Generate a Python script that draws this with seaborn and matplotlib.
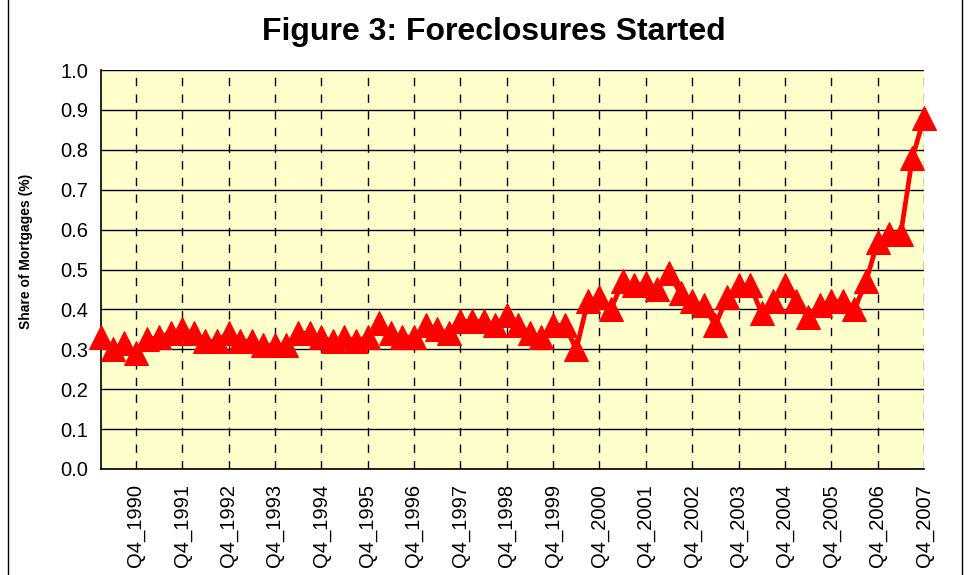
import numpy as np
import pandas as pd
import matplotlib
matplotlib.use('Agg')
import matplotlib.pyplot as plt
import seaborn as sns

# quarterly share of mortgages with foreclosures started, Q1 1990 .. Q4 2007
years = list(range(1990, 2008))
quarters = ['Q1', 'Q2', 'Q3', 'Q4']
share = [
    0.33, 0.30, 0.315, 0.29,    # 1990
    0.325, 0.33, 0.34, 0.35,    # 1991
    0.34, 0.32, 0.32, 0.34,     # 1992
    0.32, 0.32, 0.31, 0.31,     # 1993
    0.31, 0.34, 0.34, 0.33,     # 1994
    0.32, 0.33, 0.32, 0.33,     # 1995
    0.365, 0.34, 0.33, 0.33,    # 1996
    0.36, 0.35, 0.34, 0.37,     # 1997
    0.37, 0.37, 0.36, 0.385,    # 1998
    0.36, 0.34, 0.33, 0.36,     # 1999
    0.36, 0.30, 0.42, 0.43,     # 2000
    0.40, 0.47, 0.46, 0.465,    # 2001
    0.45, 0.49, 0.44, 0.42,     # 2002
    0.41, 0.36, 0.43, 0.46,     # 2003
    0.46, 0.39, 0.42, 0.46,     # 2004
    0.42, 0.38, 0.41, 0.42,     # 2005
    0.42, 0.40, 0.47, 0.57,     # 2006
    0.59, 0.59, 0.78, 0.88,     # 2007
]
labels = [f'{q}_{y}' for y in years for q in quarters]

df = pd.DataFrame({'idx': np.arange(len(share)), 'quarter': labels, 'share': share})

sns.set_style('white')
plt.rcParams['font.family'] = ['Liberation Sans', 'DejaVu Sans']
plt.rcParams['text.color'] = 'black'
plt.rcParams['xtick.color'] = 'black'
plt.rcParams['ytick.color'] = 'black'
plt.rcParams['axes.labelcolor'] = 'black'

fig = plt.figure(figsize=(9.72, 5.75), dpi=100)
ax = fig.add_axes([101 / 972, 1 - 469 / 575, 823 / 972, 399 / 575])
ax.set_facecolor('#FFFFCC')

# outer chart border
fig.patches.append(plt.Rectangle((8 / 972, -0.01), 954 / 972, 1.02, transform=fig.transFigure,
                                 fill=False, edgecolor='black', linewidth=1.0))

sns.lineplot(data=df, x='idx', y='share', ax=ax, color='#FF0000', linewidth=3.4,
             marker='^', markersize=17, markeredgecolor='#FF0000', zorder=5, clip_on=False)

ax.set_xlim(0, len(share) - 1)
ax.set_ylim(0, 1.0)
ax.set_yticks(np.arange(0, 1.01, 0.1))
ax.set_yticklabels([f'{v:.1f}' for v in np.arange(0, 1.01, 0.1)], fontsize=14.5)

q4_pos = [i for i, l in enumerate(labels) if l.startswith('Q4')]
ax.set_xticks(q4_pos)
ax.set_xticklabels([labels[i] for i in q4_pos], rotation=90, fontsize=14.5)
ax.set_xticks([i for i, l in enumerate(labels) if l.startswith('Q2')], minor=True)
ax.tick_params(axis='x', which='major', direction='inout', length=10, width=1, pad=6)
ax.tick_params(axis='x', which='minor', direction='out', length=4, width=1)
ax.tick_params(axis='y', which='major', direction='out', length=5, width=1, pad=4)

ax.grid(axis='y', color='black', linewidth=1.0, linestyle='-')
ax.grid(axis='x', which='major', color='black', linewidth=1.0, linestyle=(0, (6, 6)))
ax.set_axisbelow(True)

for s in ['top', 'right']:
    ax.spines[s].set_visible(False)
for s in ['left', 'bottom']:
    ax.spines[s].set_color('black')
    ax.spines[s].set_linewidth(1.2)

ax.set_xlabel('')
ax.set_ylabel('Share of Mortgages (%)', fontsize=10, fontweight='bold')
ax.yaxis.set_label_coords(-68 / 823, 0.545)

fig.text(494 / 972, 1 - 32 / 575, 'Figure 3: Foreclosures Started', ha='center', va='center',
         fontsize=23, fontweight='bold')

fig.savefig('out.png', dpi=100)
